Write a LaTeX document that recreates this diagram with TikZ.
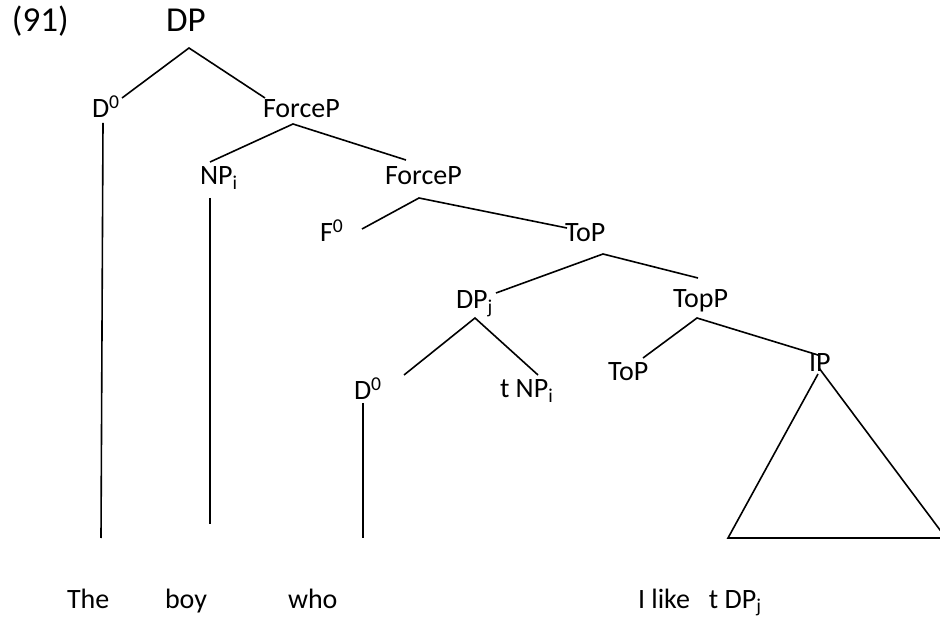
\documentclass[tikz,border=0pt]{standalone}
\usepackage{fontspec}
\setmainfont{Carlito}
\begin{document}
\begin{tikzpicture}[x=1pt,y=-1pt,
  lab/.style={anchor=base west,inner sep=0pt,outer sep=0pt,font=\fontsize{28}{34}\selectfont},
  biglab/.style={anchor=base west,inner sep=0pt,outer sep=0pt,font=\fontsize{35}{42}\selectfont},
  edge/.style={line width=1.6pt,line cap=butt}]
\useasboundingbox (0,0) rectangle (940,617);
\clip (0,0) rectangle (940,617);
% labels
\node[biglab] (n91) at (12,32) {(91)};
\node[biglab] (DP) at (166,32) {DP};
\node[lab] (D0a) at (92,118) {D\textsuperscript{0}};
\node[lab] (FP1) at (263,118) {ForceP};
\node[lab] (NPi) at (200,185) {NP\textsubscript{i}};
\node[lab] (FP2) at (385,185) {ForceP};
\node[lab] (F0) at (320,242) {F\textsuperscript{0}};
\node[lab] (ToP1) at (565,242) {ToP};
\node[lab] (DPj) at (456,309) {DP\textsubscript{j}};
\node[lab] (TopP) at (673,308) {TopP};
\node[lab] (D0b) at (354,400) {D\textsuperscript{0}};
\node[lab] (tNPi) at (500,398) {t NP\textsubscript{i}};
\node[lab] (ToP2) at (608,381) {ToP};
\node[lab] (IP) at (809,372) {IP};
\node[lab] (The) at (67,608) {The};
\node[lab] (boy) at (165,608) {boy};
\node[lab] (who) at (288,608) {who};
\node[lab] (ilike) at (638,608) {I like\hspace{19pt}t DP\textsubscript{j}};
% branch points
\coordinate (DPa) at (189,48);
\coordinate (DPl) at (122,98);
\coordinate (DPr) at (265,98);
\coordinate (FP1a) at (293,124);
\coordinate (FP1l) at (210,162);
\coordinate (FP1r) at (406,160);
\coordinate (D0at) at (103,123);
\coordinate (D0ab) at (101,538);
\coordinate (NPt) at (210,198);
\coordinate (NPb) at (210,524);
\coordinate (FP2a) at (419,198);
\coordinate (FP2l) at (362,229);
\coordinate (FP2r) at (567,228);
\coordinate (ToP1a) at (603,254);
\coordinate (ToP1l) at (496,293);
\coordinate (ToP1r) at (698,278);
\coordinate (DPja) at (475,318);
\coordinate (DPjl) at (404,375);
\coordinate (DPjr) at (538,375);
\coordinate (D0bt) at (363,403);
\coordinate (D0bb) at (363,538);
\coordinate (TopPa) at (697,318);
\coordinate (TopPl) at (643,358);
\coordinate (TopPr) at (818,355);
\coordinate (triL) at (818,374);
\coordinate (triR) at (819,368);
\coordinate (triBL) at (728,538);
\coordinate (triBR) at (946,538);
% edges
\draw[edge] (DPl) -- (DPa) -- (DPr);
\draw[edge] (FP1l) -- (FP1a) -- (FP1r);
\draw[edge] (D0at) -- (D0ab);
\draw[edge] (NPt) -- (NPb);
\draw[edge] (FP2l) -- (FP2a) -- (FP2r);
\draw[edge] (ToP1l) -- (ToP1a) -- (ToP1r);
\draw[edge] (DPjl) -- (DPja) -- (DPjr);
\draw[edge] (D0bt) -- (D0bb);
\draw[edge] (TopPl) -- (TopPa) -- (TopPr);
\draw[edge,line join=miter] (triL) -- (triBL) -- (triBR) -- (triR);
\end{tikzpicture}
\end{document}
